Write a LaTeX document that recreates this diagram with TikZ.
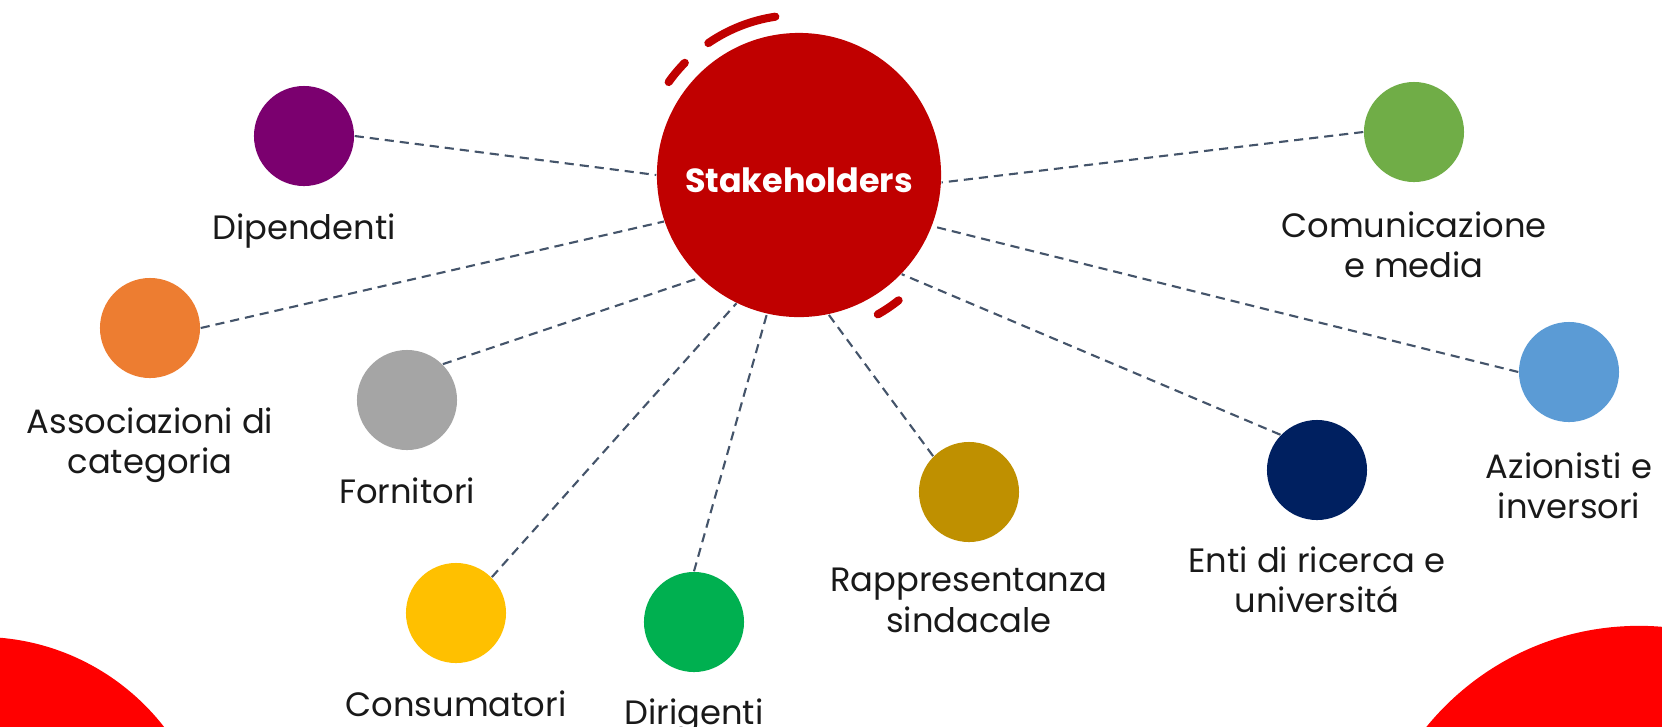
\documentclass[tikz,border=0pt]{standalone}
\usepackage{fontspec}
\setmainfont{Poppins}
\usetikzlibrary{positioning}

\definecolor{stakered}{HTML}{C00000}
\definecolor{cornerred}{HTML}{FF0000}
\definecolor{linkgray}{HTML}{44546A}
\definecolor{dipcol}{HTML}{7B006F}
\definecolor{assoccol}{HTML}{ED7D31}
\definecolor{forncol}{HTML}{A5A5A5}
\definecolor{conscol}{HTML}{FFC000}
\definecolor{dircol}{HTML}{00B050}
\definecolor{rappcol}{HTML}{BF9000}
\definecolor{enticol}{HTML}{002060}
\definecolor{azioncol}{HTML}{5B9BD5}
\definecolor{commcol}{HTML}{70AD47}

\begin{document}
\begin{tikzpicture}[x=0.01cm,y=0.01cm]

	\tikzstyle{s-node}=[circle,inner sep=0pt,minimum size=1cm]
	\tikzstyle{s-label}=[inner sep=0pt,align=center,text=black!90,font=\fontsize{9.6}{11.6}\selectfont]
	\tikzstyle{s-link}=[draw=linkgray,line width=0.6pt,dash pattern=on 2.6pt off 1.7pt]
	\tikzstyle{s-ring}=[draw=stakered,line width=2.3pt,line cap=round]

	\useasboundingbox (0,0) rectangle (1662,-726);

	% corners
	\begin{scope}
		\clip (0,0) rectangle (1662,-726);
		\fill[cornerred] (-20,-870) circle[radius=2.33cm];
		\fill[cornerred] (1639,-900) circle[radius=2.74cm];
	\end{scope}

	% centre
	\node[circle,fill=stakered,minimum size=2.84cm,inner sep=0pt,text=white,text height=10pt,text depth=0pt,font=\bfseries\fontsize{9.5}{11}\selectfont] (stake) at (799,-175) {Stakeholders};
	\draw[s-ring] (stake.center) ++(98.5:1.6cm) arc[start angle=98.5,end angle=124.5,radius=1.6cm];
	\draw[s-ring] (stake.center) ++(135.5:1.6cm) arc[start angle=135.5,end angle=144.5,radius=1.6cm];
	\draw[s-ring] (stake.center) ++(-60.5:1.6cm) arc[start angle=-60.5,end angle=-51.5,radius=1.6cm];

	% stakeholders
	\node[s-node,fill=dipcol] 	(dip)	at (304,-136)	{};
	\node[s-node,fill=assoccol] 	(assoc)	at (150,-328)	{};
	\node[s-node,fill=forncol] 	(forn)	at (407,-400)	{};
	\node[s-node,fill=conscol] 	(cons)	at (456,-613)	{};
	\node[s-node,fill=dircol] 	(dir)	at (694,-622)	{};
	\node[s-node,fill=rappcol] 	(rapp)	at (969,-492)	{};
	\node[s-node,fill=enticol] 	(enti)	at (1317,-470)	{};
	\node[s-node,fill=azioncol] 	(azion)	at (1569,-372)	{};
	\node[s-node,fill=commcol] 	(comm)	at (1414,-132)	{};

	% labels
	\node[s-label,below=0.26cm of dip]	(diplabel)	{Dipendenti};
	\node[s-label,below=0.28cm of assoc]	(assoclabel)	{Associazioni di\\categoria};
	\node[s-label,below=0.26cm of forn]	(fornlabel)	{Fornitori};
	\node[s-label,below=0.26cm of cons]	(conslabel)	{Consumatori};
	\node[s-label,below=0.25cm of dir]	(dirlabel)	{Dirigenti};
	\node[s-label,below=0.25cm of rapp]	(rapplabel)	{Rappresentanza\\sindacale};
	\node[s-label,below=0.25cm of enti]	(entilabel)	{Enti di ricerca e\\universitá};
	\node[s-label,below=0.29cm of azion]	(azionlabel)	{Azionisti e\\inversori};
	\node[s-label,below=0.28cm of comm]	(commlabel)	{Comunicazione\\e media};

	% links
	\draw[s-link] (dip.east) -- (stake.west);
	\draw[s-link] (assoc.east) -- (stake.199);
	\draw[s-link] (forn.45) -- (stake.226);
	\draw[s-link] (cons.45) -- (stake.244);
	\draw[s-link] (dir.north) -- (stake.257);
	\draw[s-link] (rapp.135) -- (stake.282);
	\draw[s-link] (enti.136) -- (stake.316);
	\draw[s-link] (azion.west) -- (stake.339);
	\draw[s-link] (comm.west) -- (stake.357);
\end{tikzpicture}
\end{document}
